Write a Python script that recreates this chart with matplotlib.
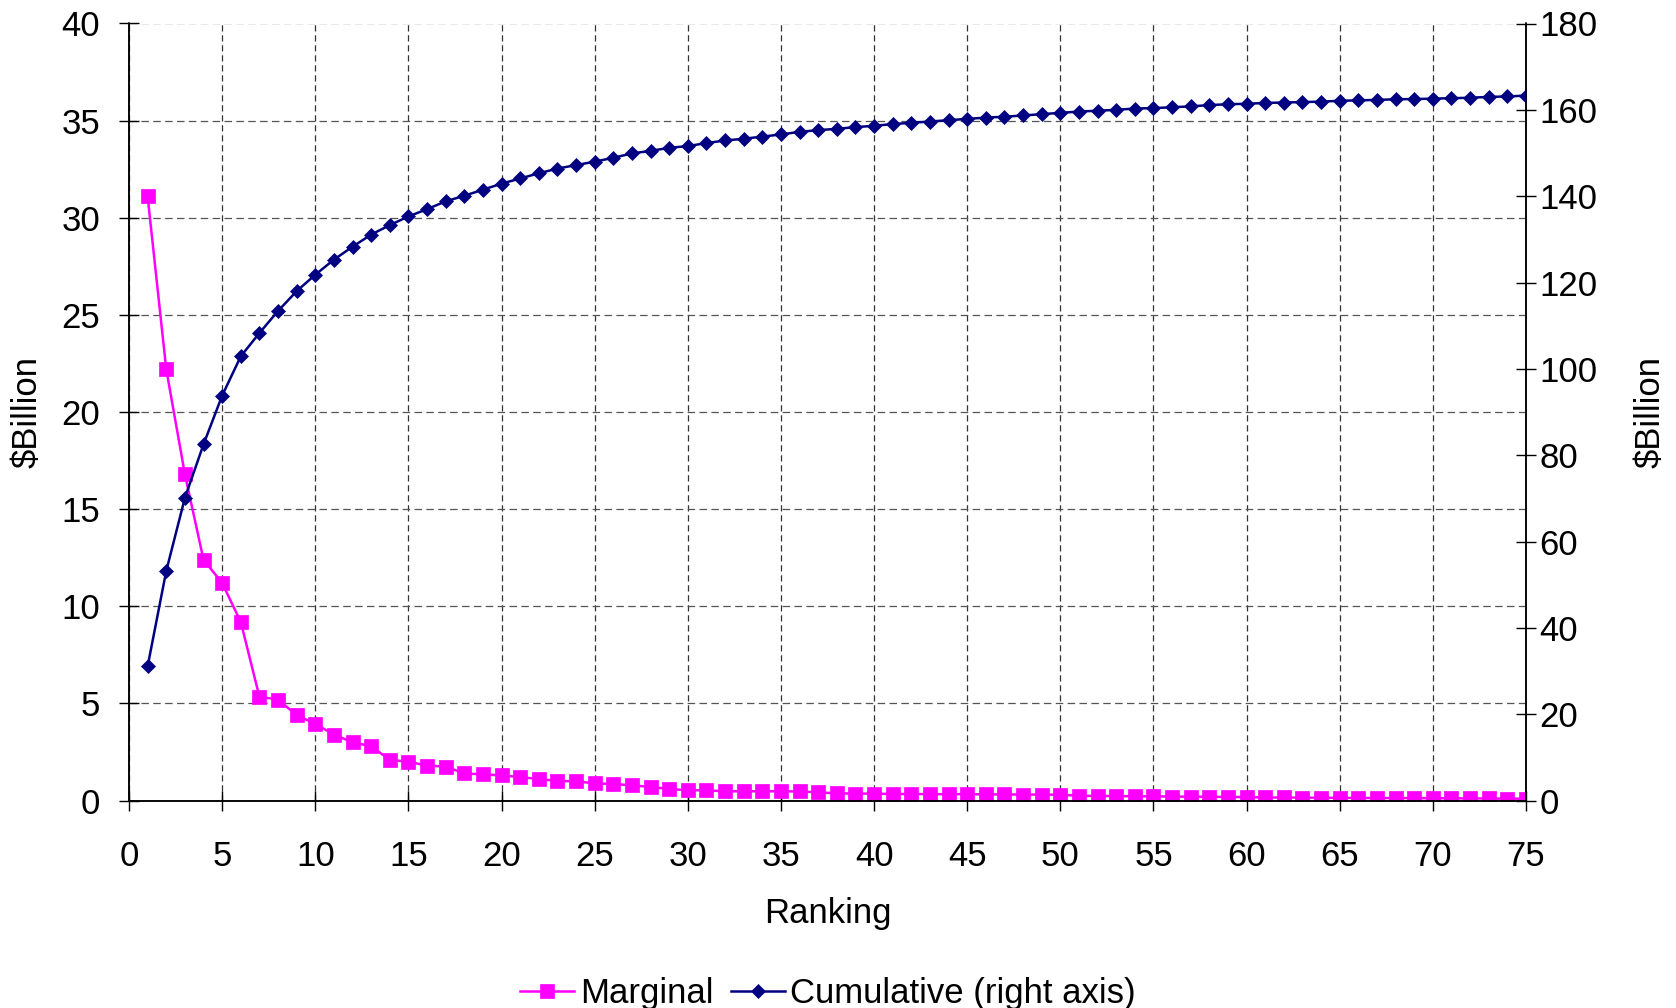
"""Marginal and cumulative value by ranking, on twin y axes."""

import matplotlib
matplotlib.use("Agg")
import matplotlib.pyplot as plt
import numpy as np

plt.rcParams["font.family"] = ["Liberation Sans", "DejaVu Sans"]

ranking = np.arange(1, 76)

marginal = [
    31.1, 22.2, 16.8, 12.4, 11.2, 9.2, 5.35, 5.2, 4.4, 3.95,
    3.4, 3.0, 2.8, 2.1, 2.0, 1.8, 1.75, 1.4, 1.35, 1.3,
    1.21, 1.11, 1.01, 0.99, 0.89, 0.85, 0.79, 0.70, 0.60, 0.53,
    0.53, 0.48, 0.48, 0.48, 0.48, 0.47, 0.43, 0.37, 0.36, 0.36,
    0.34, 0.34, 0.33, 0.33, 0.33, 0.32, 0.32, 0.31, 0.31, 0.30,
    0.25, 0.24, 0.23, 0.22, 0.22, 0.21, 0.20, 0.20, 0.19, 0.18,
    0.16, 0.16, 0.15, 0.15, 0.14, 0.14, 0.13, 0.13, 0.13, 0.12,
    0.12, 0.11, 0.11, 0.10, 0.10,
]

cumulative = [
    31.1, 53.2, 70.1, 82.5, 93.8, 102.9, 108.3, 113.4, 118.0, 121.8,
    125.3, 128.3, 131.1, 133.3, 135.3, 137.0, 138.8, 140.1, 141.5, 142.9,
    144.1, 145.3, 146.4, 147.2, 148.0, 148.9, 149.9, 150.5, 151.2, 151.6,
    152.3, 152.9, 153.3, 153.8, 154.3, 154.9, 155.3, 155.6, 156.0, 156.3,
    156.7, 157.0, 157.3, 157.6, 157.9, 158.2, 158.4, 158.7, 159.0, 159.3,
    159.6, 159.8, 160.0, 160.3, 160.4, 160.6, 160.8, 161.1, 161.3, 161.4,
    161.6, 161.7, 161.8, 161.9, 162.1, 162.2, 162.3, 162.45, 162.5, 162.6,
    162.7, 162.8, 163.0, 163.1, 163.3,
]

x_ticks = np.arange(0, 76, 5)
left_ticks = np.arange(0, 41, 5)
right_ticks = np.arange(0, 181, 20)

FS = 25
MAGENTA = "#FF00FF"
NAVY = "#000080"

fig = plt.figure(figsize=(16.76, 10.08), dpi=100)
ax = fig.add_axes([129 / 1676, 1 - 800.6 / 1008, 1397 / 1676, 777.1 / 1008])
ax2 = ax.twinx()

l1, = ax.plot(ranking, marginal, "-", color=MAGENTA, lw=1.8,
              marker="s", ms=10.3, mec=MAGENTA, mfc=MAGENTA, mew=0.5,
              label="Marginal")
l2, = ax2.plot(ranking, cumulative, "-", color=NAVY, lw=1.8,
               marker="D", ms=7.4, mec=NAVY, mfc=NAVY, mew=0.5,
               label="Cumulative (right axis)")

ax.set_xlim(0, 75)
ax.set_ylim(0, 40)
ax2.set_ylim(0, 180)
ax.set_xticks(x_ticks)
ax.set_yticks(left_ticks)
ax2.set_yticks(right_ticks)

# dashed grid, horizontal lines follow the left axis
ax.xaxis.grid(True, color="#333333", lw=0.9, ls=(0, (5, 3)))
ax.yaxis.grid(True, color="#555555", lw=0.9, ls=(0, (6, 3.5)))
ax.set_axisbelow(True)

for a in (ax, ax2):
    a.spines["top"].set_visible(False)
    for s in ("left", "right", "bottom"):
        a.spines[s].set_linewidth(1.1)
        a.spines[s].set_color("black")

ax.tick_params(axis="x", direction="inout", length=15, width=1,
               labelsize=FS, pad=21)
ax.tick_params(axis="y", direction="inout", length=15, width=1,
               labelsize=FS, pad=13.4)
ax2.tick_params(axis="y", direction="inout", length=15, width=1,
                labelsize=FS, pad=2)

ax.set_xlabel("Ranking", fontsize=FS)
ax.xaxis.label.set_va("baseline")
ax.xaxis.set_label_coords(0.5, -0.1575)

ax.set_ylabel("$Billion", fontsize=FS)
ax.yaxis.label.set_va("center")
ax.yaxis.set_label_coords(-0.073, 0.5)

ax2.set_ylabel("$Billion", fontsize=FS)
ax2.yaxis.label.set_va("center")
ax2.yaxis.set_label_coords(1.0888, 0.5)

fig.legend(handles=[l1, l2], loc="center", bbox_to_anchor=(0.494, 0.014),
           ncol=2, frameon=False, fontsize=FS, handlelength=1.56,
           handletextpad=0.15, columnspacing=0.5, borderaxespad=0)

fig.savefig("out.png", dpi=100)
plt.close(fig)
